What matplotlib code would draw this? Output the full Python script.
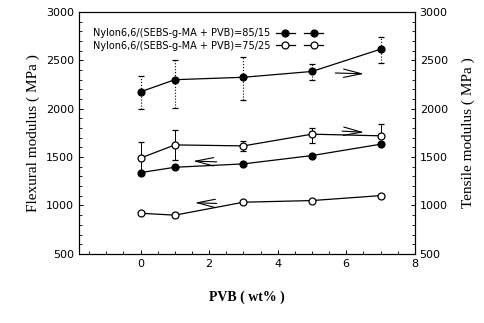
import matplotlib
matplotlib.use('Agg')
import matplotlib.pyplot as plt
from matplotlib.legend_handler import HandlerTuple
from matplotlib.ticker import MultipleLocator

# data
pvb = [0, 1, 3, 5, 7]

# tensile modulus (right axis)
tens_85 = [2175, 2300, 2325, 2385, 2615]
tens_85_lo = [175, 290, 235, 85, 145]
tens_85_hi = [165, 205, 205, 80, 130]
tens_75 = [1490, 1626, 1616, 1737, 1720]
tens_75_lo = [170, 155, 50, 95, 0]
tens_75_hi = [170, 150, 50, 60, 120]

# flexural modulus (left axis)
flex_85 = [1340, 1395, 1430, 1516, 1633]
flex_75 = [920, 900, 1034, 1051, 1102]

labels = ["Nylon6,6/(SEBS-g-MA + PVB)=85/15", "Nylon6,6/(SEBS-g-MA + PVB)=75/25"]

fig = plt.figure(figsize=(4.84, 3.23), dpi=100)
ax = fig.add_axes([0.163, 0.214, 0.694, 0.749])
ax2 = ax.twinx()

mk = dict(color='black', lw=0.9, ms=5, markeredgewidth=0.9)

# tensile, with error bars
eb1 = ax2.errorbar(pvb, tens_85, yerr=[tens_85_lo, tens_85_hi], fmt='o-', mfc='black',
                   ecolor='black', elinewidth=0.8, capsize=2, **mk)
eb1[2][0].set_linestyle(':')
eb2 = ax2.errorbar(pvb, tens_75, yerr=[tens_75_lo, tens_75_hi], fmt='o-', mfc='white',
                   ecolor='black', elinewidth=0.7, capsize=2, **mk)

# flexural
l3, = ax.plot(pvb, flex_85, 'o-', mfc='black', **mk)
l4, = ax.plot(pvb, flex_75, 'o-', mfc='white', **mk)

# arrows pointing to the axis each curve belongs to
arr = dict(arrowstyle='->,head_length=1.3,head_width=0.3', color='black', lw=0.8)
ax2.annotate('', xy=(6.6, 2360), xytext=(5.6, 2370), arrowprops=arr)
ax2.annotate('', xy=(6.6, 1755), xytext=(5.8, 1770), arrowprops=arr)
ax.annotate('', xy=(1.45, 1460), xytext=(2.3, 1450), arrowprops=arr)
ax.annotate('', xy=(1.5, 1030), xytext=(2.3, 1020), arrowprops=arr)

for a in (ax, ax2):
    a.set_ylim(500, 3000)
    a.yaxis.set_major_locator(MultipleLocator(500))
    a.yaxis.set_minor_locator(MultipleLocator(100))
    a.tick_params(direction='in', labelsize=8, length=3, width=0.7)
    a.tick_params(which='minor', direction='in', length=2, width=0.6)
ax.set_xlim(-1.8, 8)
ax.xaxis.set_major_locator(MultipleLocator(2))
ax.xaxis.set_minor_locator(MultipleLocator(0.5))
ax.set_xticks([0, 2, 4, 6, 8])

ax.set_ylabel('Flexural modulus ( MPa )', family='Liberation Serif', fontsize=11, labelpad=4)
ax2.set_ylabel('Tensile modulus ( MPa )', family='Liberation Serif', fontsize=11,
               rotation=90, labelpad=10)
ax.set_xlabel('PVB ( wt% )', family='Liberation Serif', fontsize=10, fontweight='bold', labelpad=16)

leg = ax.legend([(eb1[0], l3), (eb2[0], l4)], labels, handler_map={tuple: HandlerTuple(ndivide=None, pad=1.0)},
                loc='upper left', bbox_to_anchor=(0.03, 0.95), frameon=False, markerfirst=False,
                fontsize=7, handlelength=4.8, handletextpad=0.6, labelspacing=0.3, borderaxespad=0)

for s in ax.spines.values():
    s.set_linewidth(0.8)

fig.savefig('out.png', dpi=100)
